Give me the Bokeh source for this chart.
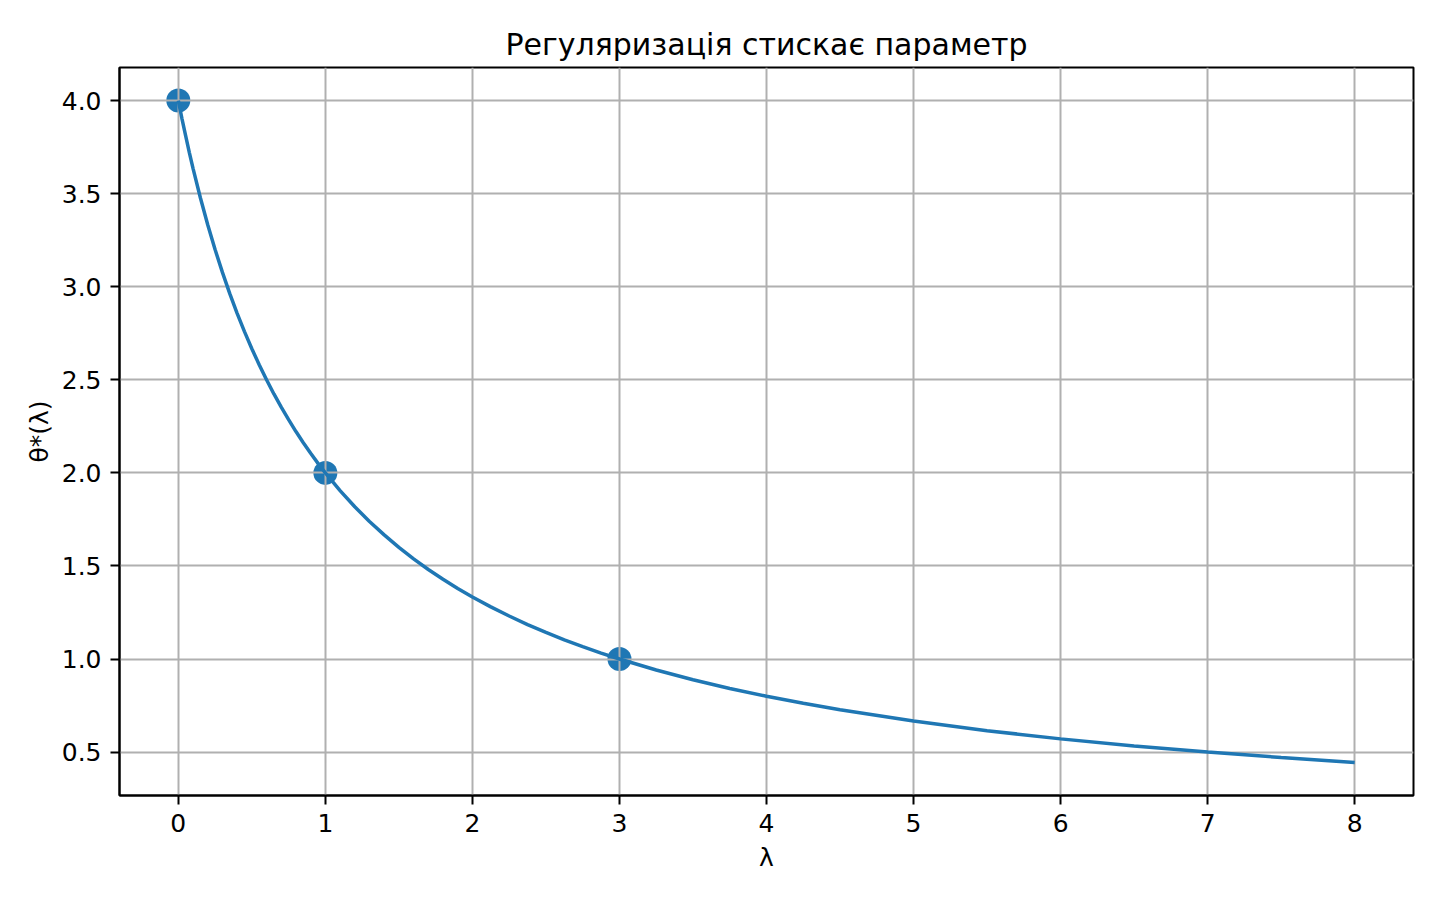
from bokeh.plotting import figure
from bokeh.models import Range1d, FixedTicker
from bokeh.embed import file_html
from bokeh.resources import INLINE

# curve samples
lam_curve = [0, 0.025, 0.05, 0.075, 0.1, 0.15, 0.2, 0.25, 0.3, 0.35, 0.4, 0.45,
             0.5, 0.55, 0.6, 0.65, 0.7, 0.75, 0.8, 0.85, 0.9, 0.95, 1.0,
             1.1, 1.2, 1.3, 1.4, 1.5, 1.6, 1.7, 1.8, 1.9, 2.0, 2.125, 2.25,
             2.375, 2.5, 2.625, 2.75, 2.875, 3.0, 3.25, 3.5, 3.75, 4.0, 4.25,
             4.5, 5.0, 5.5, 6.0, 6.5, 7.0, 7.5, 8.0]
theta_curve = [4.000, 3.902, 3.810, 3.721, 3.636, 3.478, 3.333, 3.200, 3.077,
               2.963, 2.857, 2.759, 2.667, 2.581, 2.500, 2.424, 2.353, 2.286,
               2.222, 2.162, 2.105, 2.051, 2.000, 1.905, 1.818, 1.739, 1.667,
               1.600, 1.538, 1.481, 1.429, 1.379, 1.333, 1.280, 1.231, 1.185,
               1.143, 1.103, 1.067, 1.032, 1.000, 0.941, 0.889, 0.842, 0.800,
               0.762, 0.727, 0.667, 0.615, 0.571, 0.533, 0.500, 0.471, 0.444]

# highlighted points
lam_pts = [0, 1, 3]
theta_pts = [4.0, 2.0, 1.0]

x_ticks = [0, 1, 2, 3, 4, 5, 6, 7, 8]
y_ticks = [0.5, 1.0, 1.5, 2.0, 2.5, 3.0, 3.5, 4.0]

TITLE = "Регуляризація стискає параметр"
XLABEL = "λ"
YLABEL = "θ*(λ)"

FONT = "DejaVu Sans"
BLUE = "#1f77b4"

p = figure(width=1440, height=900, output_backend="svg", toolbar_location=None,
           x_range=Range1d(-0.4, 8.4), y_range=Range1d(0.2668, 4.1778),
           min_border_left=119, min_border_right=27, min_border_top=67,
           min_border_bottom=105, title=TITLE)

p.title.text_font = FONT
p.title.text_font_size = "30px"
p.title.text_font_style = "normal"
p.title.align = "center"
p.title.text_color = "black"
p.title.standoff = 12

p.outline_line_color = "black"
p.outline_line_width = 2
p.outline_line_alpha = 1.0

for ax in (p.xaxis[0], p.yaxis[0]):
    ax.axis_line_width = 2
    ax.axis_line_color = "black"
    ax.major_tick_line_width = 2
    ax.major_tick_line_color = "black"
    ax.major_tick_out = 9
    ax.major_tick_in = 0
    ax.minor_tick_line_color = None
    ax.major_label_text_font = FONT
    ax.major_label_text_font_size = "25px"
    ax.major_label_text_color = "black"
    ax.axis_label_text_font = FONT
    ax.axis_label_text_font_size = "25px"
    ax.axis_label_text_font_style = "normal"
    ax.axis_label_text_color = "black"

p.xaxis[0].ticker = FixedTicker(ticks=x_ticks)
p.yaxis[0].ticker = FixedTicker(ticks=y_ticks)
p.yaxis[0].major_label_overrides = {v: f"{v:.1f}" for v in y_ticks}
p.xaxis[0].major_label_standoff = 9
p.yaxis[0].major_label_standoff = 9
p.xaxis[0].axis_label = XLABEL
p.yaxis[0].axis_label = YLABEL
p.xaxis[0].axis_label_standoff = 8
p.yaxis[0].axis_label_standoff = 5

p.xgrid[0].ticker = FixedTicker(ticks=x_ticks)
p.ygrid[0].ticker = FixedTicker(ticks=y_ticks)
for g in (p.xgrid[0], p.ygrid[0]):
    g.grid_line_color = "#b0b0b0"
    g.grid_line_width = 2

sc = p.scatter(lam_pts, theta_pts, size=24, fill_color=BLUE, line_color=None)
sc.level = "image"
p.line(lam_curve, theta_curve, line_color=BLUE, line_width=3.5)

open("out.html", "w").write(file_html(p, INLINE))
